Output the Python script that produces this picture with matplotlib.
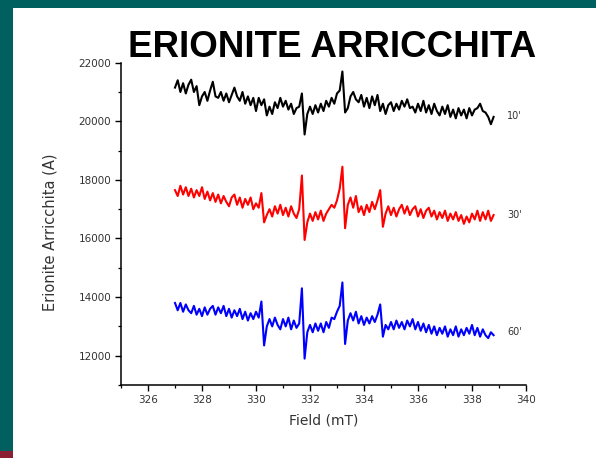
import matplotlib
matplotlib.use("Agg")
import matplotlib.pyplot as plt
from matplotlib.patches import Rectangle
from matplotlib.ticker import MultipleLocator

field = [327.0, 327.1, 327.2, 327.3, 327.4, 327.5, 327.6, 327.7, 327.8, 327.9,
         328.0, 328.1, 328.2, 328.3, 328.4, 328.5, 328.6, 328.7, 328.8, 328.9,
         329.0, 329.1, 329.2, 329.3, 329.4, 329.5, 329.6, 329.7, 329.8, 329.9,
         330.0, 330.1, 330.2, 330.3, 330.4, 330.5, 330.6, 330.7, 330.8, 330.9,
         331.0, 331.1, 331.2, 331.3, 331.4, 331.5, 331.6, 331.7, 331.8, 331.9,
         332.0, 332.1, 332.2, 332.3, 332.4, 332.5, 332.6, 332.7, 332.8, 332.9,
         333.0, 333.1, 333.2, 333.3, 333.4, 333.5, 333.6, 333.7, 333.8, 333.9,
         334.0, 334.1, 334.2, 334.3, 334.4, 334.5, 334.6, 334.7, 334.8, 334.9,
         335.0, 335.1, 335.2, 335.3, 335.4, 335.5, 335.6, 335.7, 335.8, 335.9,
         336.0, 336.1, 336.2, 336.3, 336.4, 336.5, 336.6, 336.7, 336.8, 336.9,
         337.0, 337.1, 337.2, 337.3, 337.4, 337.5, 337.6, 337.7, 337.8, 337.9,
         338.0, 338.1, 338.2, 338.3, 338.4, 338.5, 338.6, 338.7, 338.8]

s10 = [21150, 21400, 21000, 21300, 20950, 21250, 21420, 21000, 21200, 20550,
       20850, 21000, 20700, 21050, 21350, 20850, 20800, 21000, 20700, 20950,
       20650, 20900, 21150, 20850, 20700, 21000, 20600, 20850, 20550, 20800,
       20350, 20800, 20550, 20750, 20200, 20500, 20250, 20650, 20450, 20800,
       20500, 20700, 20400, 20600, 20250, 20450, 20500, 20950, 19550, 20250,
       20500, 20250, 20550, 20300, 20600, 20350, 20700, 20500, 20800, 20600,
       20950, 21050, 21700, 20300, 20450, 20850, 21000, 20750, 20650, 20900,
       20500, 20800, 20450, 20850, 20550, 20900, 20350, 20600, 20250, 20550,
       20650, 20350, 20600, 20400, 20700, 20500, 20750, 20450, 20500, 20300,
       20600, 20350, 20700, 20300, 20550, 20250, 20600, 20350, 20200, 20500,
       20250, 20550, 20150, 20400, 20100, 20450, 20200, 20400, 20100, 20450,
       20200, 20400, 20450, 20600, 20350, 20300, 20150, 19900, 20150]

s30 = [17650, 17450, 17800, 17500, 17750, 17450, 17700, 17400, 17650, 17450,
       17750, 17350, 17600, 17300, 17550, 17250, 17500, 17200, 17450, 17250,
       17100, 17400, 17500, 17150, 17400, 17050, 17350, 17150, 17400, 17000,
       17200, 17050, 17550, 16550, 16800, 17000, 16750, 17100, 16850, 17150,
       16800, 17050, 16750, 17100, 16850, 16700, 17000, 18150, 15950, 16550,
       16850, 16600, 16900, 16650, 16950, 16600, 16850, 17000, 17150, 17050,
       17300, 17700, 18450, 16350, 17150, 17400, 17050, 17450, 16900, 17100,
       16800, 17150, 16900, 17250, 17000, 17300, 17650, 16400, 16850, 17100,
       16800, 17050, 16750, 17000, 17150, 16850, 17100, 16800, 17000, 17100,
       16750, 17000, 16700, 16950, 17050, 16750, 16950, 16650, 16900, 16700,
       16950, 16600, 16850, 16650, 16900, 16600, 16800, 16500, 16750, 16550,
       16850, 16650, 16950, 16600, 16900, 16650, 16950, 16600, 16800]

s60 = [13800, 13550, 13800, 13500, 13750, 13550, 13450, 13700, 13400, 13600,
       13350, 13650, 13400, 13600, 13700, 13400, 13650, 13450, 13700, 13350,
       13600, 13300, 13550, 13350, 13600, 13250, 13500, 13200, 13450, 13250,
       13500, 13300, 13850, 12350, 13000, 13250, 13000, 13300, 13050, 12900,
       13250, 13000, 13300, 12900, 13200, 12950, 13100, 14300, 11900, 12800,
       13050, 12800, 13100, 12850, 13100, 12800, 13150, 12950, 13300, 13250,
       13500, 13700, 14500, 12400, 13200, 13450, 13200, 13500, 13100, 13350,
       13050, 13300, 13100, 13350, 13150, 13400, 13750, 12650, 13050, 12900,
       13150, 12900, 13200, 12950, 13150, 12900, 13200, 13000, 13250, 12900,
       13150, 12850, 13100, 12800, 13050, 12750, 13000, 12700, 12950, 12750,
       13000, 12650, 12900, 12700, 13000, 12650, 12900, 12700, 12950, 12750,
       13050, 12700, 12950, 12650, 12900, 12700, 12600, 12800, 12700]

series = [(s10, "#000000", "10'", 20180),
          (s30, "#ff0000", "30'", 16800),
          (s60, "#0000ff", "60'", 12800)]

W, H = 596, 458
fig = plt.figure(figsize=(W / 100, H / 100), dpi=100)
fig.patch.set_facecolor("white")

# slide decorations
fig.add_artist(Rectangle((0, 1 - 8 / H), 1, 8 / H, transform=fig.transFigure,
                         facecolor="#006060", edgecolor="none"))
fig.add_artist(Rectangle((0, 0), 13 / W, 1, transform=fig.transFigure,
                         facecolor="#006060", edgecolor="none"))
fig.add_artist(Rectangle((0, 0), 13 / W, 7 / H, transform=fig.transFigure,
                         facecolor="#8b2035", edgecolor="none"))

ax = fig.add_axes([121 / W, 1 - 385 / H, (526 - 121) / W, (385 - 62.7) / H])
for s, c, lab, ly in series:
    ax.plot(field, s, color=c, lw=1.5)
    ax.text(339.3, ly, lab, fontsize=7, color="#333333", va="center",
            ha="left", family="DejaVu Sans", clip_on=False)

ax.set_xlim(325, 340)
ax.set_ylim(11000, 22000)
ax.xaxis.set_minor_locator(MultipleLocator(1))
ax.yaxis.set_minor_locator(MultipleLocator(1000))
ax.set_xticks([326, 328, 330, 332, 334, 336, 338, 340])
ax.set_yticks([12000, 14000, 16000, 18000, 20000, 22000])
for sp in ["top", "right"]:
    ax.spines[sp].set_visible(False)
for sp in ["left", "bottom"]:
    ax.spines[sp].set_linewidth(1.1)
ax.tick_params(which="major", direction="out", length=4, width=1.0,
               labelsize=7.5, labelcolor="#333333", pad=3)
ax.tick_params(which="minor", direction="out", length=2.5, width=0.9)
for t in ax.get_xticklabels() + ax.get_yticklabels():
    t.set_family("DejaVu Sans")

ax.set_xlabel("Field (mT)", fontsize=10, color="#333333", family="DejaVu Sans",
              labelpad=6)
ax.set_ylabel("Erionite Arricchita (A)", fontsize=10.5, color="#333333",
              family="DejaVu Sans")
ax.yaxis.set_label_coords(-(121 - 57) / (526 - 121), (385 - 232) / (385 - 62.7))

fig.text(332 / W, 1 - 57 / H, "ERIONITE ARRICCHITA", fontsize=26.5, fontweight="bold",
         family="Liberation Sans", ha="center", va="baseline", color="black")

fig.savefig("out.png", dpi=100, facecolor=fig.get_facecolor())
